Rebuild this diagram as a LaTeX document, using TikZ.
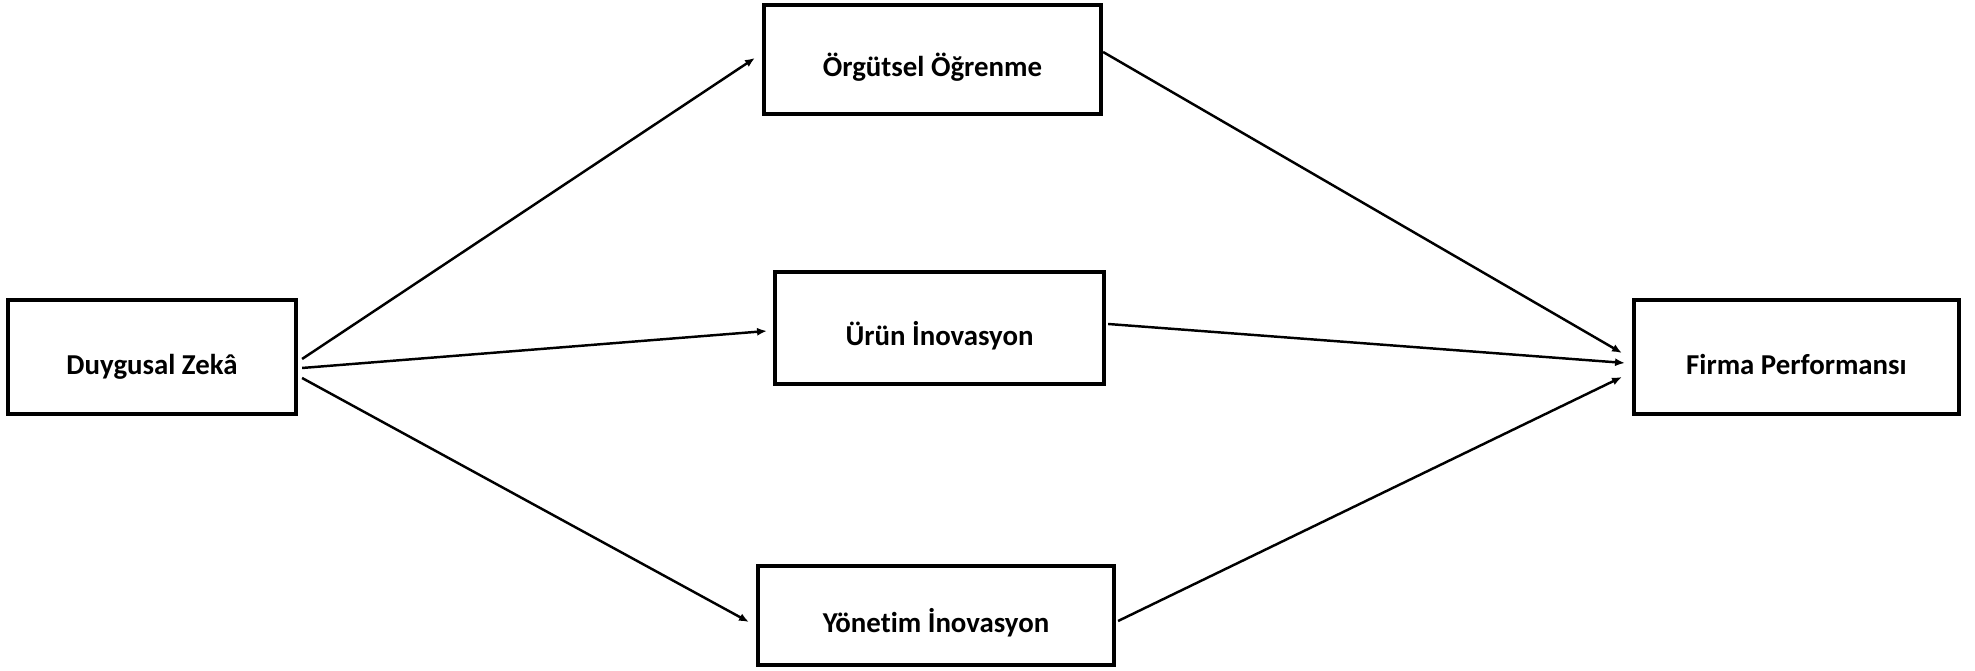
\documentclass[tikz,border=0pt]{standalone}
\usepackage{fontspec}
\setmainfont{Carlito}[Ligatures=NoCommon]
\usetikzlibrary{arrows.meta}
\tikzset{
  kutu/.style={draw,line width=1.15pt,rectangle,outer sep=0pt,
    font=\fontsize{8.2}{9.5}\selectfont\bfseries,text height=9.8pt,text depth=0pt},
  ok/.style={line width=0.7pt,-{Latex[length=2.8pt,width=2.3pt]}}
}
\begin{document}
\begin{tikzpicture}[x=0.01cm,y=-0.01cm]
            \useasboundingbox (0,0) rectangle (1975,671);
            \node[kutu,minimum width=2.88cm,minimum height=1.14cm] (dz) at (152,357) {Duygusal Zekâ};
            \node[kutu,minimum width=3.37cm,minimum height=1.09cm] (og) at (932.5,59.5) {Örgütsel Öğrenme};
            \node[kutu,minimum width=3.29cm,minimum height=1.12cm] (ui) at (939.5,328) {Ürün İnovasyon};
            \node[kutu,minimum width=3.56cm,minimum height=0.99cm] (yi) at (936,615.5) {Yönetim İnovasyon};
            \node[kutu,minimum width=3.25cm,minimum height=1.14cm] (fp) at (1796.5,357) {Firma Performansı};
            \draw[ok] ([shift={(6,2)}]dz.east) -- ([shift={(-9,-1.5)}]og.west);
            \draw[ok] ([shift={(6,11)}]dz.east) -- ([shift={(-8,3)}]ui.west);
            \draw[ok] ([shift={(6,21)}]dz.east) -- ([shift={(-9,6.5)}]yi.west);
            \draw[ok] ([shift={(2,-7.5)}]og.east) -- ([shift={(-12,-4)}]fp.west);
            \draw[ok] ([shift={(4,-4)}]ui.east) -- ([shift={(-9,6)}]fp.west);
            \draw[ok] ([shift={(4,5.5)}]yi.east) -- ([shift={(-12,20)}]fp.west);
        \end{tikzpicture}
\end{document}
